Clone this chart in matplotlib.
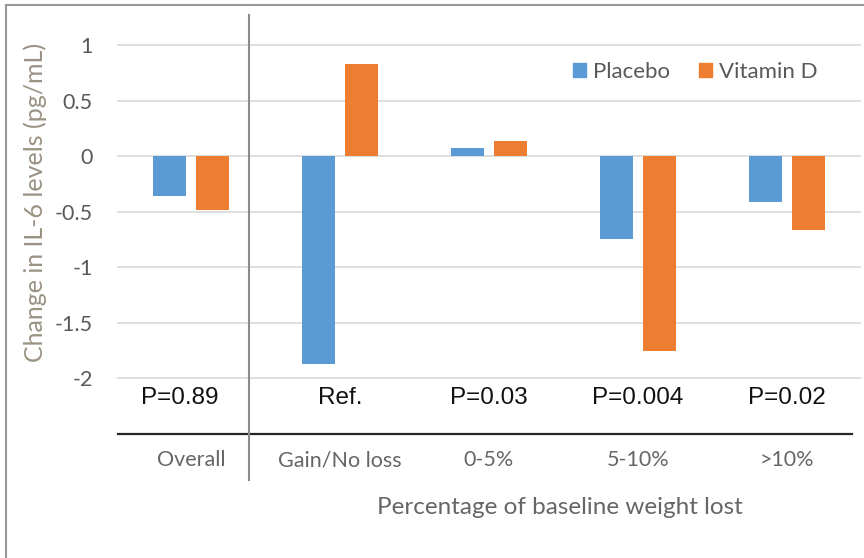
import matplotlib
matplotlib.use('Agg')
import matplotlib.pyplot as plt
from matplotlib.lines import Line2D
from matplotlib.patches import Patch
import numpy as np

# Data
categories = ['Overall', 'Gain/No loss', '0-5%', '5-10%', '>10%']
placebo = [-0.36, -1.87, 0.07, -0.75, -0.41]
vitamin_d = [-0.49, 0.83, 0.14, -1.76, -0.67]
p_values = ['P=0.89', 'Ref.', 'P=0.03', 'P=0.004', 'P=0.02']
yticks = [1, 0.5, 0, -0.5, -1, -1.5, -2]
ytick_labels = ['1', '0.5', '0', '-0.5', '-1', '-1.5', '-2']

blue = '#5B9BD5'
orange = '#ED7D31'
uifont = ['Lato', 'DejaVu Sans']

fig = plt.figure(figsize=(8.64, 5.58), dpi=100, facecolor='white')
ax = fig.add_axes([116.5/864, 1-433.5/558, 745/864, 399.5/558])

x = np.arange(len(categories))
w = 0.22
off = 0.145
ax.bar(x - off, placebo, w, color=blue, zorder=3)
ax.bar(x + off, vitamin_d, w, color=orange, zorder=3)

ax.set_xlim(-0.5, len(categories) - 0.5)
ax.set_ylim(-2.5, 1.1)

# gridlines only at tick positions
for yv in yticks:
    ax.axhline(yv, color='#d9d9d9', lw=1.2, zorder=1)

ax.set_yticks(yticks)
ax.set_yticklabels(ytick_labels, family=uifont, fontsize=15.5, color='#595959')
ax.tick_params(axis='y', length=0, pad=17)

ax.set_xticks(x)
ax.set_xticklabels(categories, family=uifont, fontsize=15.5, color='#666666')
ax.tick_params(axis='x', length=0, pad=12)

for s in ax.spines.values():
    s.set_visible(False)

# black separator line under p-value row
ax.axhline(-2.5, xmin=0.002, xmax=0.987, color='#262626', lw=1.6, zorder=4, clip_on=False)

# vertical divider between overall and subgroups
ax.plot([0.39, 0.39], [1.27, -2.92], color='#8c8c8c', lw=1.5, clip_on=False, zorder=4)

for i, p in enumerate(p_values):
    ax.text(i - 0.075 if i == 0 else i, -2.18, p, ha='center', va='center',
            family=['Liberation Sans', 'DejaVu Sans'], fontsize=17.5, color='#111111')

ax.set_ylabel('Change in IL-6 levels (pg/mL)', family=uifont, fontsize=18,
              color='#9a9283')
ax.yaxis.set_label_coords(-0.093, 0.578)

fig.text(560/864, 1-508/558, 'Percentage of baseline weight lost', ha='center', va='center',
         family=uifont, fontsize=17.5, color='#666666')

handles = [Patch(color=blue, label='Placebo'), Patch(color=orange, label='Vitamin D')]
leg = ax.legend(handles=handles, loc='center right', bbox_to_anchor=(0.968, 0.905),
                frameon=False, handlelength=0.6, handleheight=0.6, handletextpad=0.3,
                columnspacing=1.3, ncol=2, prop={'family': uifont, 'size': 16})
for t in leg.get_texts():
    t.set_color('#595959')

# outer frame (left and top edges)
fig.add_artist(Line2D([6/864, 6/864], [0, 1-5/558], transform=fig.transFigure,
                      color='#999999', lw=1.5))
fig.add_artist(Line2D([6/864, 1], [1-5/558, 1-5/558], transform=fig.transFigure,
                      color='#999999', lw=1.5))

fig.savefig('out.png', dpi=100)
